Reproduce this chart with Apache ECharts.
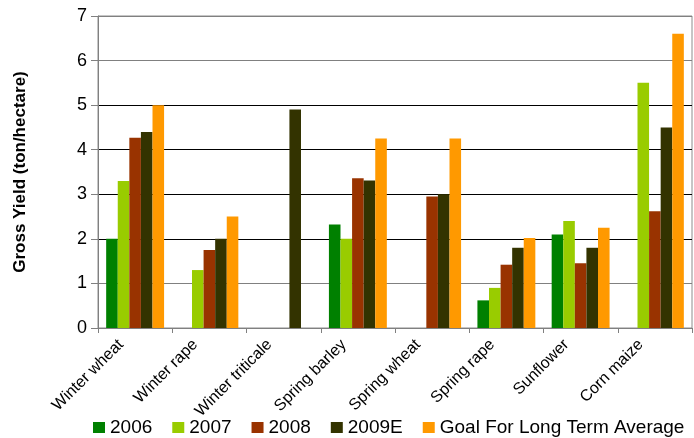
<!DOCTYPE html>
<html>
<head>
<meta charset="utf-8">
<script src="https://cdn.jsdelivr.net/npm/echarts@6/dist/echarts.min.js"></script>
<style>
html,body{margin:0;padding:0;background:#fff;}
#chart{width:694px;height:438px;}
</style>
</head>
<body>
<div id="chart"></div>
<script>
var categories = ['Winter wheat','Winter rape','Winter triticale','Spring barley','Spring wheat','Spring rape','Sunflower','Corn maize'];
var s2006 = [2.0, null, null, 2.32, null, 0.62, 2.1, null];
var s2007 = [3.3, 1.3, null, 2.0, null, 0.9, 2.4, 5.5];
var s2008 = [4.27, 1.75, null, 3.36, 2.95, 1.42, 1.45, 2.62];
var s2009E = [4.4, 2.0, 4.9, 3.31, 3.0, 1.8, 1.8, 4.5];
var sGoal = [5.0, 2.5, null, 4.25, 4.25, 2.02, 2.25, 6.6];
var seriesNames = ['2006','2007','2008','2009E','Goal For Long Term Average'];
var yTicks = [0,1,2,3,4,5,6,7];

var colors = ['#008000','#99CC00','#993300','#333300','#FF9900'];
var font = '"Liberation Sans", Arial, sans-serif';
var dataSets = [s2006, s2007, s2008, s2009E, sGoal];

var chart = echarts.init(document.getElementById('chart'), null, {renderer:'canvas'});
chart.setOption({
  animation: false,
  color: colors,
  grid: {left: 98, right: 2, top: 16, bottom: 110, show: true, borderColor: '#8c8c8c', borderWidth: 1},
  legend: {
    data: seriesNames,
    left: 93, top: 418, padding: 0,
    itemWidth: 12, itemHeight: 11, itemGap: 20,
    icon: 'rect',
    textStyle: {fontFamily: font, fontSize: 19, color: '#000'}
  },
  xAxis: {
    type: 'category',
    data: categories,
    axisLine: {lineStyle: {color: '#808080', width: 1}},
    axisTick: {show: true, length: 5, lineStyle: {color: '#808080'}},
    axisLabel: {interval: 0, rotate: 45, margin: 0, padding: [0, 20, 12, 0], fontFamily: font, fontSize: 16, color: '#000'}
  },
  yAxis: {
    type: 'value',
    min: yTicks[0], max: yTicks[yTicks.length-1], interval: 1,
    name: 'Gross Yield (ton/hectare)',
    nameLocation: 'middle', nameGap: 69, nameRotate: 90,
    nameTextStyle: {fontFamily: font, fontSize: 17, fontWeight: 'bold', color: '#000'},
    axisLine: {show: true, lineStyle: {color: '#808080', width: 1}},
    axisTick: {show: true, length: 7, lineStyle: {color: '#808080'}},
    axisLabel: {margin: 11, fontFamily: font, fontSize: 18, color: '#000'},
    splitLine: {show: true, lineStyle: {color: ['#808080','#808080','#000','#000','#000','#000','#808080','#808080'], width: 1}}
  },
  series: seriesNames.map(function(n, i){
    return {
      name: n, type: 'bar', data: dataSets[i],
      barGap: '0%', barCategoryGap: '22%',
      itemStyle: {color: colors[i]}
    };
  })
});
</script>
</body>
</html>
